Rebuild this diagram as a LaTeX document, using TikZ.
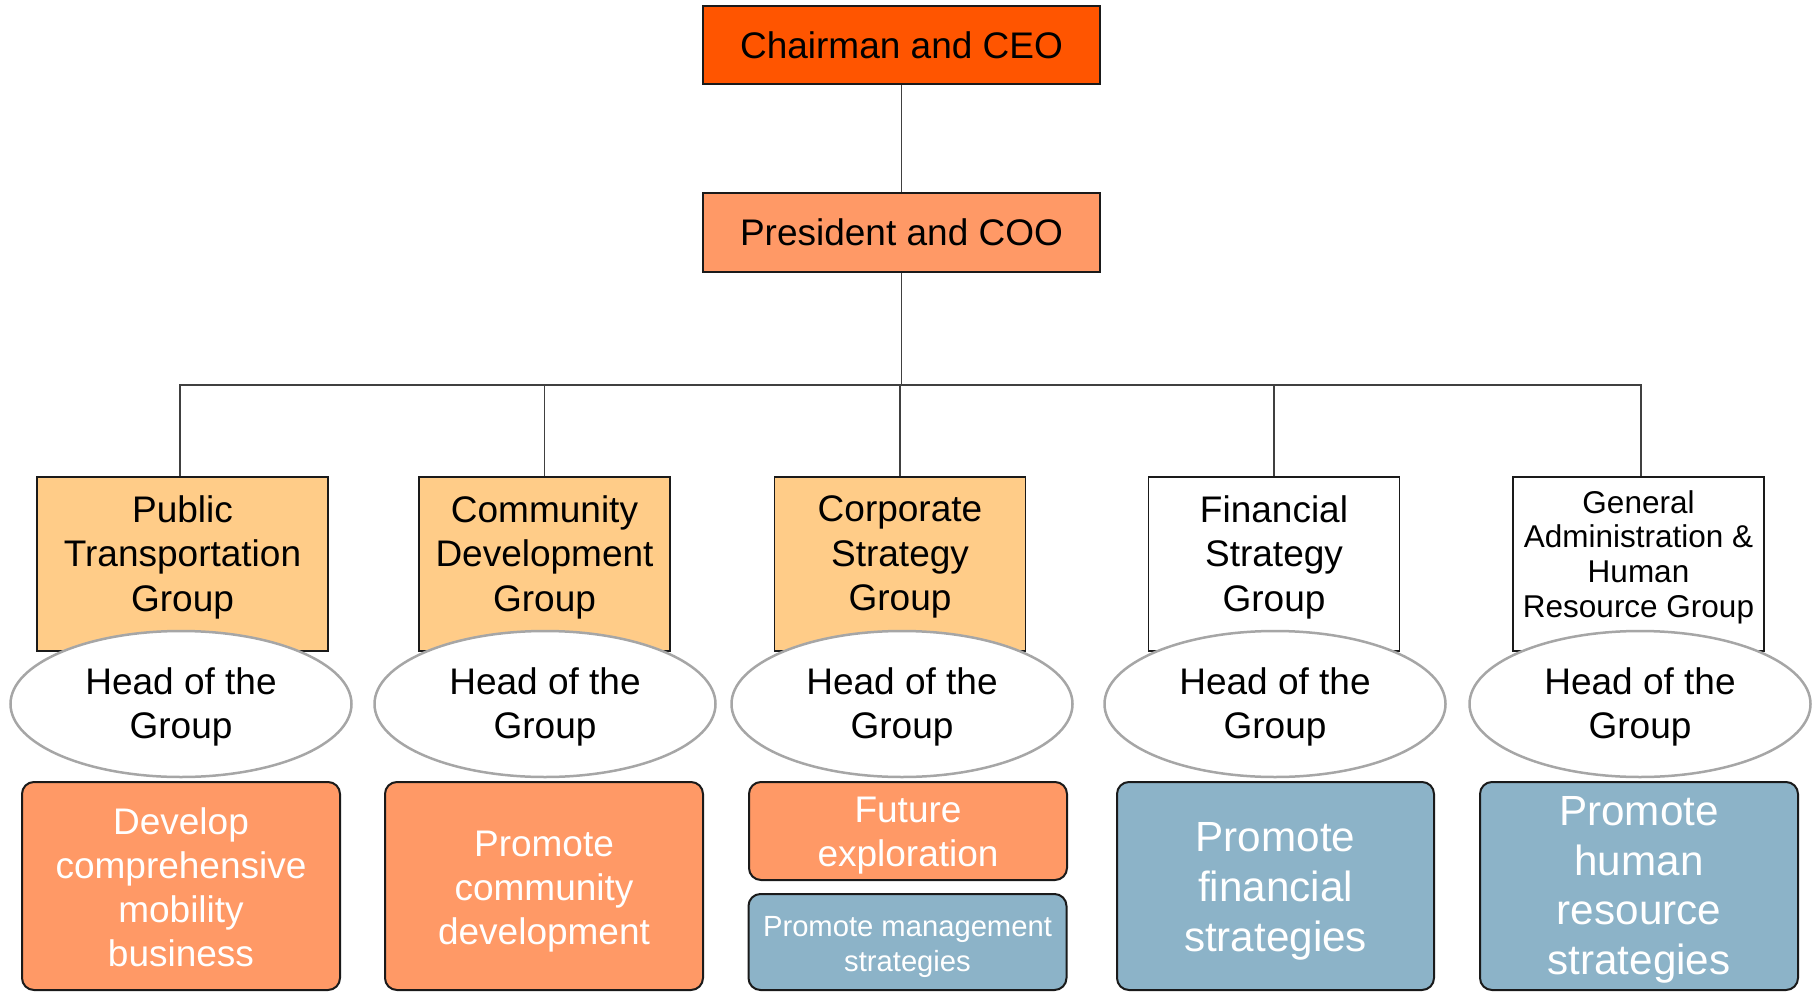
\documentclass[tikz,border=0pt]{standalone}
\usepackage{fontspec}
\setmainfont{Liberation Sans}
\usetikzlibrary{shapes.geometric}
\definecolor{ceo}{HTML}{FF5500}
\definecolor{coo}{HTML}{FF9966}
\definecolor{grp}{HTML}{FFCC88}
\definecolor{task}{HTML}{FF9966}
\definecolor{plan}{HTML}{8CB3C8}
\definecolor{wire}{HTML}{404040}
\definecolor{rim}{HTML}{A6A6A6}
\definecolor{edge}{HTML}{1A1A1A}
\begin{document}
\begin{tikzpicture}[x=1pt,y=-1pt,
  topbox/.style={draw=edge, line width=1.5pt, minimum width=397pt, minimum height=78pt,
    inner sep=0pt, font=\fontsize{37}{44}\selectfont},
  grpbox/.style={draw=edge, line width=1.5pt, minimum width=251pt, minimum height=174pt, inner sep=0pt},
  grptext/.style={align=center, inner sep=0pt, font=\fontsize{37}{44.5}\selectfont},
  head/.style={ellipse, draw=rim, line width=2.5pt, fill=white, minimum width=341pt,
    minimum height=146pt, inner sep=0pt},
  headtext/.style={align=center, inner sep=0pt, font=\fontsize{37}{43.5}\selectfont},
  goal/.style={draw=edge, line width=2pt, rounded corners=12pt, inner sep=0pt,
    minimum width=318pt, minimum height=208pt},
  goaltext/.style={align=center, inner sep=0pt, text=white},
  link/.style={draw=wire, line width=1.5pt}]
\useasboundingbox (0,0) rectangle (1814,992);

% top of the chart
\node[topbox, fill=ceo] (ceo) at (901.5,45) {Chairman and CEO};
\node[topbox, fill=coo, minimum height=79pt] (coo) at (901.5,232.5) {President and COO};

% group boxes
\node[grpbox, fill=grp, minimum width=291pt] (g1) at (182.5,564) {};
\node[grpbox, fill=grp] (g2) at (544.5,564) {};
\node[grpbox, fill=grp] (g3) at (900,564) {};
\node[grpbox, fill=white] (g4) at (1274,564) {};
\node[grpbox, fill=white] (g5) at (1638.5,564) {};

% reporting lines
\coordinate (bus) at (901.5,385);
\path[link] (ceo.south) -- (coo.north);
\path[link] (coo.south) -- (bus);
\path[link] (bus) -| ([xshift=-2.5pt]g1.north);
\foreach \g in {g2,g3,g4}{\path[link] (bus) -| (\g.north);}
\path[link] (bus) -| ([xshift=2.5pt]g5.north);

% group names
\node[grptext] (t1) at (182.5,557) {Public\\Transportation\\Group};
\node[grptext] (t2) at (544.5,557) {Community\\Development\\Group};
\node[grptext] (t3) at (900,557) {Corporate\\Strategy\\Group};
\node[grptext] (t4) at (1274,557) {Financial\\Strategy\\Group};
\node[grptext, font=\fontsize{31.5}{34.7}\selectfont] (t5) at (1638.5,557)
  {General\\Administration \&\\Human\\Resource Group};

% heads of the groups
\foreach \n/\x in {1/181,2/545,3/902,4/1275,5/1640}{
  \node[head] (h\n) at (\x,704) {};
  \node[headtext] (ht\n) at (\x,707) {Head of the\\Group};
}

% missions
\node[goal, fill=task] (m1) at (181,886) {};
\node[goaltext, font=\fontsize{37}{43.9}\selectfont] (mt1) at (181,887.5)
  {Develop\\comprehensive\\mobility\\business};
\node[goal, fill=task] (m2) at (544,886) {};
\node[goaltext, font=\fontsize{37}{44.2}\selectfont] (mt2) at (544,891.5)
  {Promote\\community\\development};
\node[goal, fill=task, minimum height=98pt] (m3) at (908,831) {};
\node[goaltext, font=\fontsize{37}{44}\selectfont] (mt3) at (908,835.3)
  {Future\\exploration};
\node[goal, fill=plan, minimum height=96pt] (m3b) at (907.5,942) {};
\node[goaltext, font=\fontsize{29.2}{35}\selectfont] (mt3b) at (907.5,946.8)
  {Promote management\\strategies};
\node[goal, fill=plan, minimum width=317pt] (m4) at (1275.5,886) {};
\node[goaltext, font=\fontsize{42.2}{50}\selectfont] (mt4) at (1275.5,891)
  {Promote\\financial\\strategies};
\node[goal, fill=plan] (m5) at (1639,886) {};
\node[goaltext, font=\fontsize{42.2}{49.7}\selectfont] (mt5) at (1639,890)
  {Promote\\human\\resource\\strategies};
\end{tikzpicture}
\end{document}
